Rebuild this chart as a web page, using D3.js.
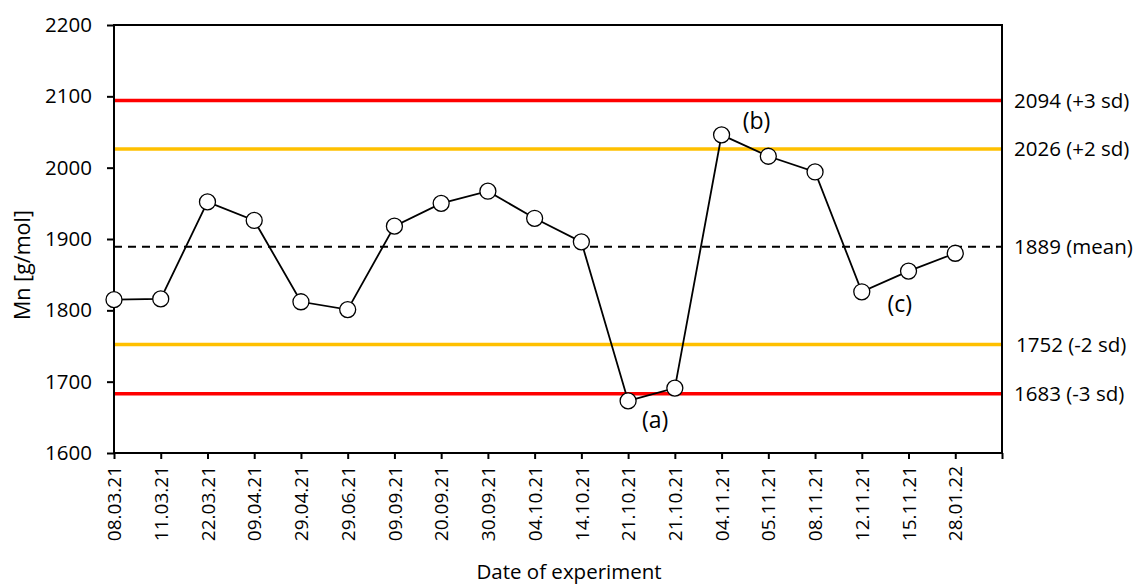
<!DOCTYPE html>
<html><head><meta charset="utf-8">
<script src="https://cdn.jsdelivr.net/npm/d3@7"></script>
<style>
body{margin:0;background:#fff;}
svg{display:block;font-family:"Open Sans",sans-serif;}
</style></head>
<body><svg id="c" width="1137" height="585"></svg>
<script>
const dates = ["08.03.21","11.03.21","22.03.21","09.04.21","29.04.21","29.06.21","09.09.21","20.09.21","30.09.21","04.10.21","14.10.21","21.10.21","21.10.21","04.11.21","05.11.21","08.11.21","12.11.21","15.11.21","28.01.22"];
const mn = [1815,1816,1952,1926,1812,1801,1918,1950,1967,1929,1896,1673,1691,2046,2016,1994,1826,1855,1880];
const yTicks = [1600,1700,1800,1900,2000,2100,2200];
const refValues = [2094,2026,1889,1752,1683];
const refLabels = ["2094 (+3 sd)","2026 (+2 sd)","1889 (mean)","1752 (-2 sd)","1683 (-3 sd)"];
const refKinds = ["red","yellow","mean","yellow","red"];
const notes = [{i:11,t:"(a)"},{i:13,t:"(b)"},{i:16,t:"(c)"}];

const L=114,R=1002,T=25,B=453;
const svg=d3.select("#c");
const x=d3.scaleLinear().domain([0,dates.length]).range([L,R]);
const y=d3.scaleLinear().domain([1600,2200]).range([B,T]);

// reference lines
const refStyle={red:{c:"#FF0000",w:3.5,d:null},yellow:{c:"#FFC000",w:3.5,d:null},mean:{c:"#000",w:2,d:"8,6"}};
refValues.forEach((v,k)=>{
  const s=refStyle[refKinds[k]];
  svg.append("line").attr("x1",L).attr("x2",R).attr("y1",y(v)).attr("y2",y(v))
    .attr("stroke",s.c).attr("stroke-width",s.w).attr("stroke-dasharray",s.d);
  svg.append("text").attr("x",R+(refKinds[k]==="yellow"&&v<1889?14:12)).attr("y",y(v)).attr("dy","0.35em")
    .attr("font-size",20.5).attr("fill","#000").text(refLabels[k]);
});

// axes
const yAxis=svg.append("g").attr("transform",`translate(${L},0)`)
  .call(d3.axisLeft(y).tickValues(yTicks).tickSize(7).tickPadding(15).tickFormat(d3.format("d")));
yAxis.select(".domain").remove();
yAxis.selectAll(".tick line").attr("stroke","#000").attr("stroke-width",2);
yAxis.selectAll("text").attr("font-size",20.5).attr("font-family","Open Sans").attr("fill","#000");

const xAxis=svg.append("g").attr("transform",`translate(0,${B})`)
  .call(d3.axisBottom(x).tickValues(d3.range(dates.length+1)).tickSize(6).tickFormat(i=>dates[i]||""));
xAxis.select(".domain").remove();
xAxis.selectAll(".tick line").attr("stroke","#000").attr("stroke-width",2);
xAxis.selectAll("text").attr("font-size",19).attr("font-family","Open Sans").attr("fill","#000")
  .attr("transform","rotate(-90)").attr("text-anchor","end").attr("x",-13).attr("y",0).attr("dy","0.35em");

// frame
svg.append("rect").attr("x",L).attr("y",T).attr("width",R-L).attr("height",B-T)
  .attr("fill","none").attr("stroke","#000").attr("stroke-width",2);

// series
const line=d3.line().x((d,i)=>x(i)).y(d=>y(d));
svg.append("path").datum(mn).attr("d",line).attr("fill","none").attr("stroke","#000").attr("stroke-width",1.8);
svg.selectAll("circle.pt").data(mn).join("circle").attr("class","pt")
  .attr("cx",(d,i)=>x(i)).attr("cy",d=>y(d)).attr("r",8)
  .attr("fill","#fff").attr("stroke","#000").attr("stroke-width",1.3);

// annotations
const off={11:[27,19],13:[35,-14],16:[38,12]};
notes.forEach(n=>{
  svg.append("text").attr("x",x(n.i)+off[n.i][0]).attr("y",y(mn[n.i])+off[n.i][1]).attr("dy","0.35em")
    .attr("text-anchor","middle").attr("font-size",23).attr("fill","#000").text(n.t);
});

// axis titles
svg.append("text").attr("transform","translate(22,265) rotate(-90)").attr("text-anchor","middle")
  .attr("dy","0.35em").attr("font-size",21.5).attr("fill","#000").text("Mn [g/mol]");
svg.append("text").attr("x",569).attr("y",579).attr("text-anchor","middle")
  .attr("font-size",20.5).attr("fill","#000").text("Date of experiment");
</script></body></html>
